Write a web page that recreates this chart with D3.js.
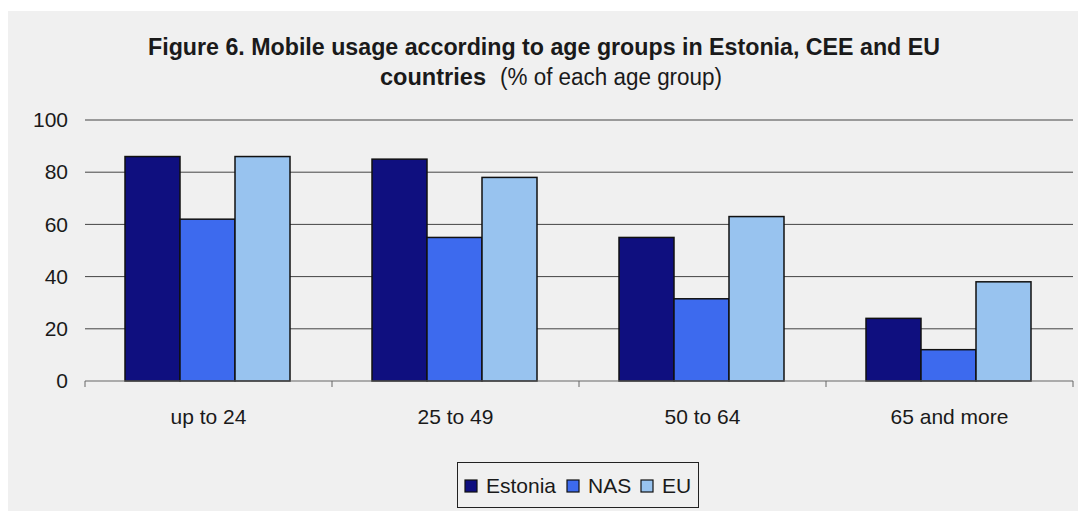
<!DOCTYPE html>
<html>
<head>
<meta charset="utf-8">
<script src="https://cdn.jsdelivr.net/npm/d3@7"></script>
<style>
body{margin:0;background:#fff;}
svg{display:block;font-family:'Liberation Sans',Arial,sans-serif;}
</style>
</head>
<body>
<script>
var categories=['up to 24','25 to 49','50 to 64','65 and more'];
var seriesNames=['Estonia','NAS','EU'];
var estonia=[86,85,55,24];
var nas=[62,55,31.5,12];
var eu=[86,78,63,38];
var yTicks=[0,20,40,60,80,100];
var colors=['#0f0f7f','#3d6aee','#98c3ef'];

var width=1078,height=511;
var svg=d3.select('body').append('svg')
.attr('width',width)
.attr('height',height);

svg.append('rect')
.attr('x',8).attr('y',11)
.attr('width',width-8).attr('height',height-11)
.style('fill','#f0f0f0');

// title
svg.append('text')
.attr('x',544).attr('y',55)
.attr('text-anchor','middle')
.style('font-size','23px')
.style('font-weight','bold')
.style('fill','#1a1a1a')
.attr('textLength',792)
.attr('lengthAdjust','spacingAndGlyphs')
.text('Figure 6. Mobile usage according to age groups in Estonia, CEE and EU');

var t2=svg.append('text')
.attr('x',380).attr('y',85)
.style('font-size','23px')
.style('fill','#1a1a1a');
t2.append('tspan').style('font-weight','bold')
.attr('textLength',106).attr('lengthAdjust','spacingAndGlyphs')
.text('countries');
t2.append('tspan').attr('x',500)
.attr('textLength',222).attr('lengthAdjust','spacingAndGlyphs')
.text('(% of each age group)');

var plotL=85,plotR=1073,plotT=120,plotB=381;

var x0=d3.scaleBand().domain(categories).range([plotL,plotR]).paddingInner(0).paddingOuter(0);
var x1=d3.scaleBand().domain(seriesNames).range([40,x0.bandwidth()-42]);
var y=d3.scaleLinear().domain([0,100]).range([plotB,plotT]);

// gridlines
svg.append('g').selectAll('line')
.data(yTicks.filter(d=>d>0))
.enter().append('line')
.attr('x1',plotL).attr('x2',plotR)
.attr('y1',d=>y(d)).attr('y2',d=>y(d))
.style('stroke','#444')
.style('stroke-width',1);

// y labels
var yAxis=d3.axisLeft(y).tickValues(yTicks).tickSize(0).tickPadding(17);
var gy=svg.append('g').attr('transform','translate('+plotL+',0)').call(yAxis);
gy.select('.domain').remove();
gy.selectAll('text')
.style('font-size','21px')
.style('font-family','Liberation Sans, Arial, sans-serif')
.style('fill','#1a1a1a');

var data=categories.map(function(c,i){
    return {cat:c,vals:[estonia[i],nas[i],eu[i]]};
});

var groups=svg.append('g').selectAll('g')
.data(data)
.enter().append('g')
.attr('transform',d=>'translate('+x0(d.cat)+',0)');

groups.selectAll('rect')
.data(d=>d.vals.map((v,j)=>({name:seriesNames[j],v:v,j:j})))
.enter().append('rect')
.attr('x',d=>x1(d.name))
.attr('width',x1.bandwidth())
.attr('y',d=>y(d.v))
.attr('height',d=>y(0)-y(d.v))
.style('fill',d=>colors[d.j])
.style('stroke','#111')
.style('stroke-width',1.5);

// x axis
var xAxis=d3.axisBottom(x0).tickSize(0).tickPadding(28);
var gx=svg.append('g').attr('transform','translate(0,'+plotB+')').call(xAxis);
gx.select('.domain').style('stroke','#666').attr('d','M'+plotL+',0H'+plotR);
gx.selectAll('text')
.style('font-size','21px')
.style('font-family','Liberation Sans, Arial, sans-serif')
.style('fill','#1a1a1a');
svg.append('g').selectAll('line')
.data(categories.map(c=>x0(c)).concat([plotR]))
.enter().append('line')
.attr('x1',d=>d).attr('x2',d=>d)
.attr('y1',plotB).attr('y2',plotB+6)
.style('stroke','#666');

// legend
var legend=svg.append('g').attr('id','legend');
legend.append('rect')
.attr('x',457.5).attr('y',462.5)
.attr('width',241).attr('height',45)
.style('fill','#f0f0f0')
.style('stroke','#222');
var legX=[465,567,641];
seriesNames.forEach(function(n,i){
    legend.append('rect')
    .attr('x',legX[i]).attr('y',480)
    .attr('width',12).attr('height',12)
    .style('fill',colors[i])
    .style('stroke','#111')
    .style('stroke-width',1.2);
    legend.append('text')
    .attr('x',legX[i]+21).attr('y',493)
    .style('font-size','21px')
    .style('fill','#1a1a1a')
    .text(n);
});
</script>
</body>
</html>
